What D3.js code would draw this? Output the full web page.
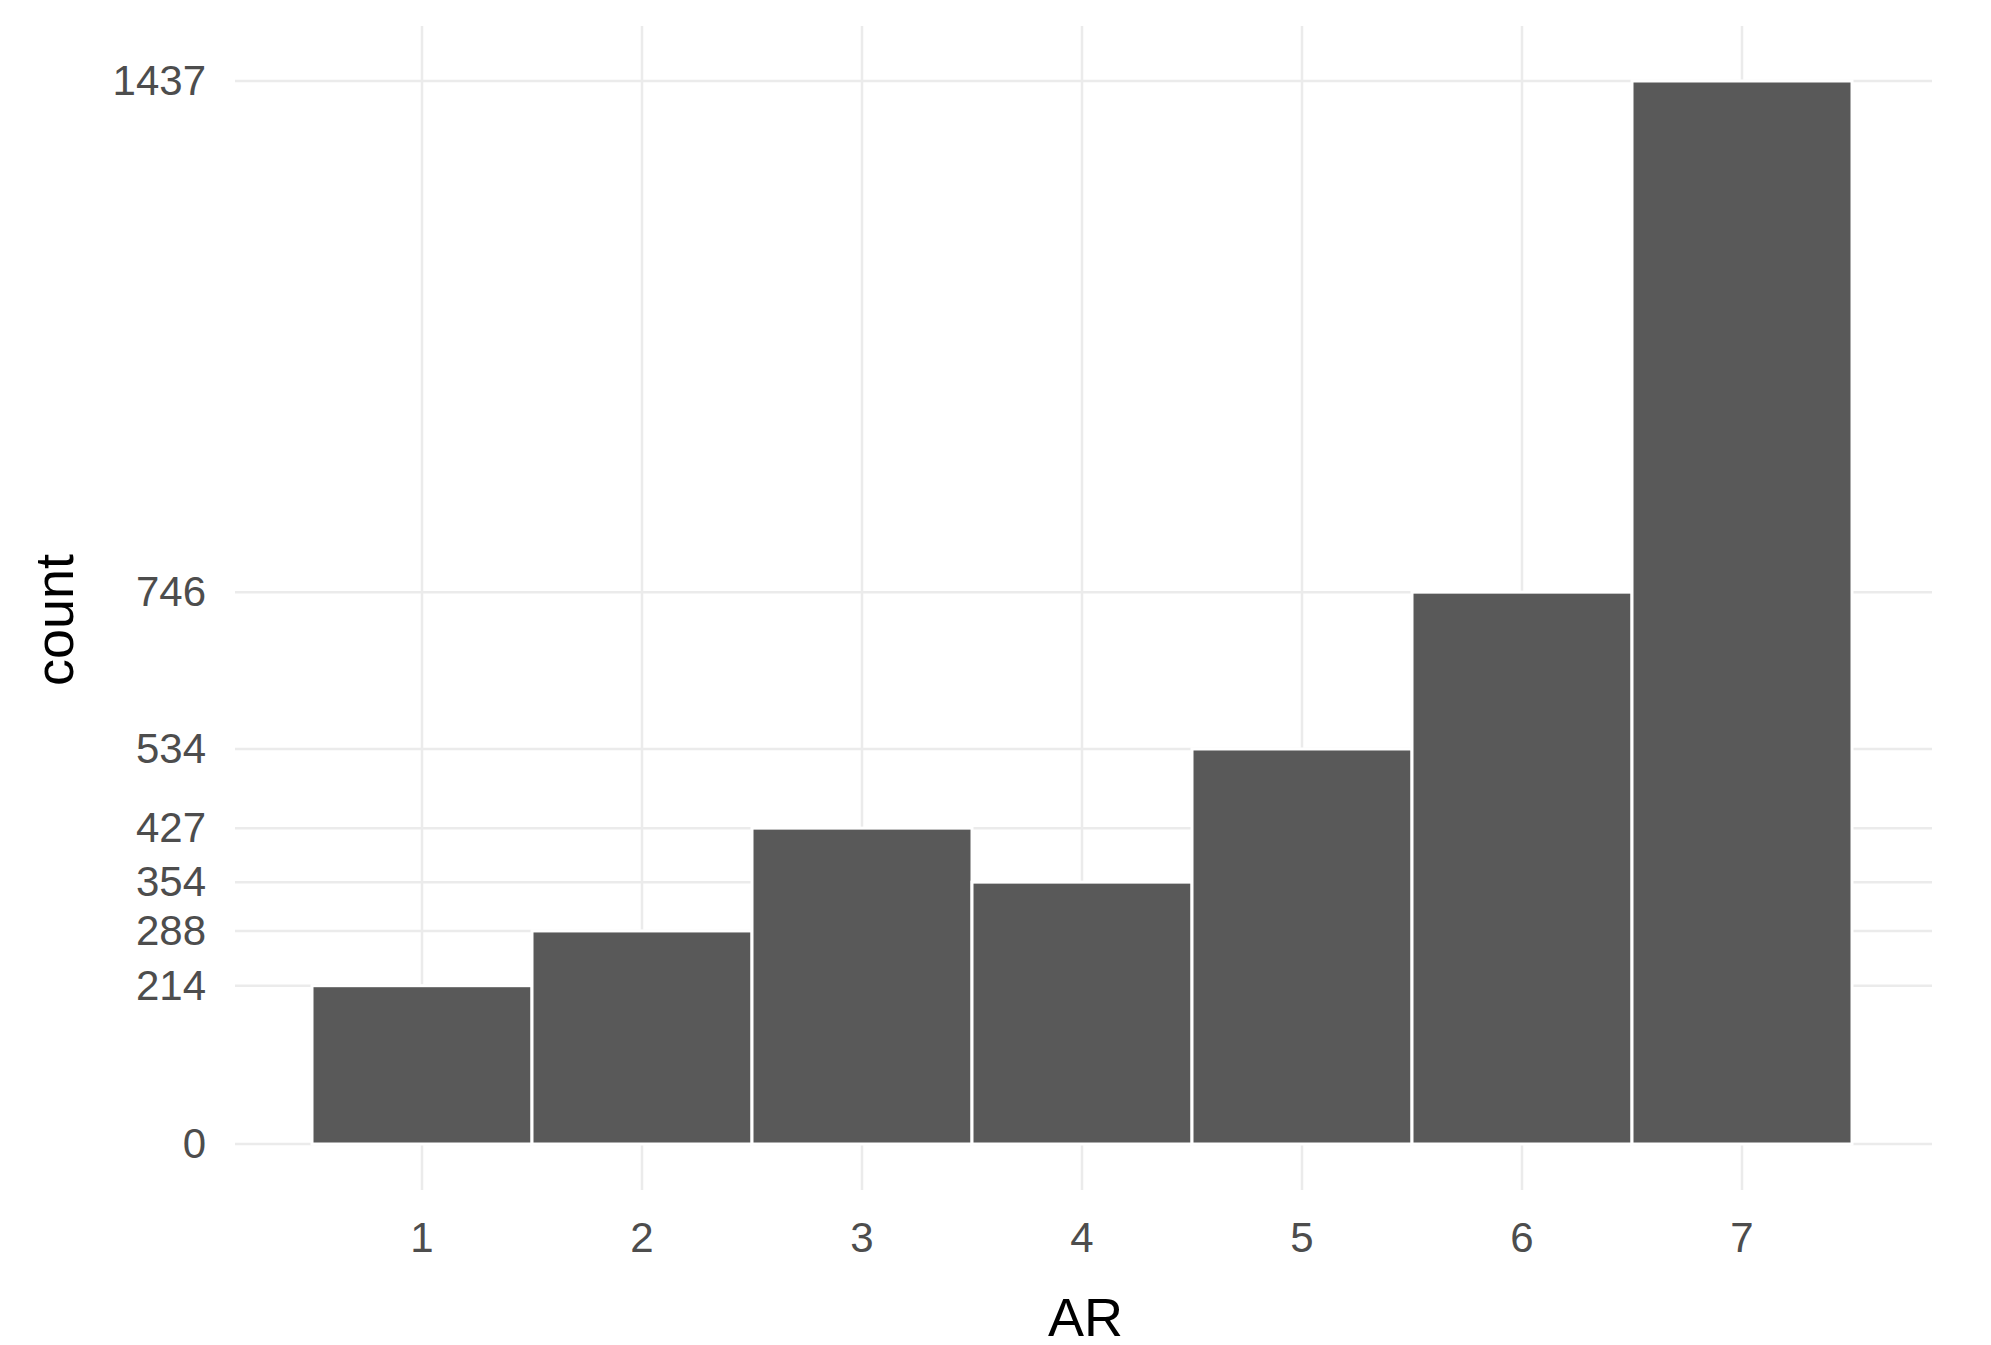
<!DOCTYPE html>
<html><head><meta charset="utf-8">
<script src="https://cdn.jsdelivr.net/npm/d3@7"></script>
<style>body{margin:0;background:#fff}</style></head>
<body><svg id="c" width="1991" height="1345"></svg>
<script>
const categories = ["1","2","3","4","5","6","7"];
const counts = [214, 288, 427, 354, 534, 746, 1437];
const yTicks = [0, 214, 288, 354, 427, 534, 746, 1437];

const svg = d3.select("#c");
const L = 235, R = 1932, T = 26, B = 1190;
const x = d3.scaleBand().domain(categories).range([312, 1852]).padding(0);
const y = d3.scaleLinear().domain([0, 1437]).range([1144, 81]);
const FF = "Liberation Sans, Arial, sans-serif";

const g = svg.append("g");
g.selectAll(".vg").data(categories).join("line")
  .attr("x1", d => x(d) + x.bandwidth()/2).attr("x2", d => x(d) + x.bandwidth()/2)
  .attr("y1", T).attr("y2", B).attr("stroke", "#ebebeb").attr("stroke-width", 2.5);
g.selectAll(".hg").data(yTicks).join("line")
  .attr("x1", L).attr("x2", R).attr("y1", d => y(d)).attr("y2", d => y(d))
  .attr("stroke", "#ebebeb").attr("stroke-width", 2.5);
g.selectAll(".bar").data(counts).join("rect")
  .attr("x", (d, i) => x(categories[i])).attr("width", x.bandwidth())
  .attr("y", d => y(d)).attr("height", d => y(0) - y(d))
  .attr("fill", "#595959").attr("stroke", "#fff").attr("stroke-width", 3);

const ya = svg.append("g").attr("transform", `translate(${206},0)`)
  .call(d3.axisLeft(y).tickValues(yTicks).tickSize(0).tickPadding(0).tickFormat(d3.format("d")));
ya.select(".domain").remove();
ya.selectAll("text").attr("font-family", FF).attr("font-size", 42).attr("fill", "#4d4d4d");

const xa = svg.append("g").attr("transform", `translate(0,${1222})`)
  .call(d3.axisBottom(x).tickSize(0).tickPadding(0));
xa.select(".domain").remove();
xa.selectAll("text").attr("font-family", FF).attr("font-size", 42).attr("fill", "#4d4d4d");

svg.append("text").attr("x", (L + R) / 2 + 2).attr("y", 1336).attr("text-anchor", "middle")
  .attr("font-family", FF).attr("font-size", 54).text("AR");
svg.append("text").attr("transform", "translate(73,620) rotate(-90)").attr("text-anchor", "middle")
  .attr("font-family", FF).attr("font-size", 54).text("count");
</script></body></html>
